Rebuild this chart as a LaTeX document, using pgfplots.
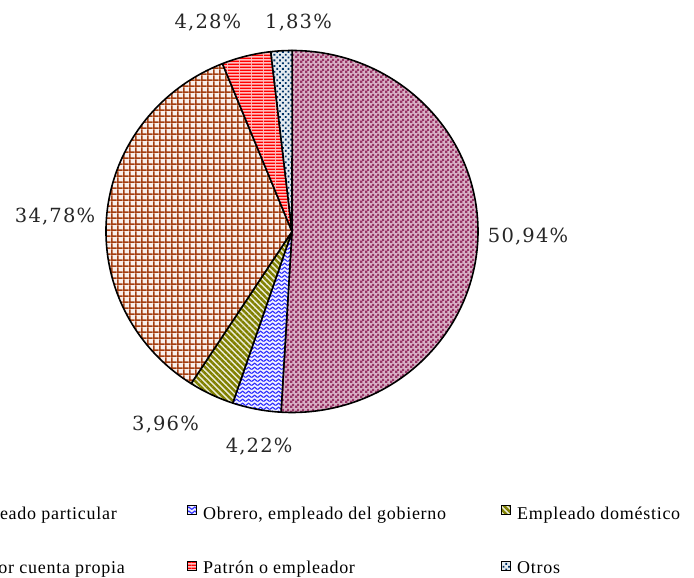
\documentclass[border=0pt]{standalone}
\usepackage{fontspec}
\setmainfont[LetterSpace=4]{Liberation Serif}
\newfontfamily\labfont[LetterSpace=6]{DejaVu Serif}
\usepackage{pgfplots}
\pgfplotsset{compat=1.18}
\usepackage{pgfplotstable}
\usetikzlibrary{patterns,patterns.meta}

\definecolor{piemaroon}{HTML}{993366}
\definecolor{pieblue}{HTML}{2E2EFF}
\definecolor{pieolive}{HTML}{808000}
\definecolor{piebrown}{HTML}{A33D10}
\definecolor{piered}{HTML}{FF0000}
\definecolor{pienavy}{HTML}{003366}

% fill patterns of the slices
\pgfdeclarepatternformonly{pchecker}{\pgfqpoint{0bp}{0bp}}{\pgfqpoint{5bp}{5bp}}{\pgfqpoint{5bp}{5bp}}{%
  \pgfpathrectangle{\pgfqpoint{0bp}{0bp}}{\pgfqpoint{2.9bp}{2.9bp}}%
  \pgfpathrectangle{\pgfqpoint{2.5bp}{2.5bp}}{\pgfqpoint{2.5bp}{2.5bp}}%
  \pgfusepath{fill}}
\pgfdeclarepatternformonly{pgridb}{\pgfqpoint{0bp}{0bp}}{\pgfqpoint{5.8bp}{5.8bp}}{\pgfqpoint{5.8bp}{5.8bp}}{%
  \pgfpathrectangle{\pgfqpoint{0bp}{0bp}}{\pgfqpoint{5.8bp}{1.8bp}}%
  \pgfpathrectangle{\pgfqpoint{0bp}{0bp}}{\pgfqpoint{1.8bp}{5.8bp}}%
  \pgfusepath{fill}}
\pgfdeclarepatternformonly{phlines}{\pgfqpoint{0bp}{0bp}}{\pgfqpoint{12bp}{3bp}}{\pgfqpoint{12bp}{3bp}}{%
  \pgfpathrectangle{\pgfqpoint{0bp}{0bp}}{\pgfqpoint{12bp}{1.8bp}}%
  \pgfusepath{fill}}
\pgfdeclarepatternformonly{pzigzag}{\pgfqpoint{0bp}{0bp}}{\pgfqpoint{6bp}{4bp}}{\pgfqpoint{6bp}{4bp}}{%
  \pgfsetlinewidth{1.3bp}%
  \pgfpathmoveto{\pgfqpoint{-0.5bp}{0.5bp}}%
  \pgfpathlineto{\pgfqpoint{3bp}{3.5bp}}%
  \pgfpathlineto{\pgfqpoint{6.5bp}{0.5bp}}%
  \pgfusepath{stroke}}

\tikzset{
  pie0/.style={preaction={fill=piemaroon!38}, pattern=pchecker, pattern color=piemaroon},
  pie1/.style={preaction={fill=pieblue!8}, pattern=pzigzag, pattern color=pieblue},
  pie2/.style={preaction={fill=pieolive!15}, pattern={Lines[angle=-45,distance=4.2bp,line width=2.5bp]}, pattern color=pieolive},
  pie3/.style={preaction={fill=piebrown!8}, pattern=pgridb, pattern color=piebrown},
  pie4/.style={preaction={fill=piered!25}, pattern=phlines, pattern color=piered},
  pie5/.style={preaction={fill=pienavy!10}, pattern={Dots[angle=45,distance=4bp,radius=1.3bp]}, pattern color=pienavy},
  legbox/.style={draw=black, line width=0.8bp},
}

% share (%) and label position (axis units)
\pgfplotstableread{
value lx     ly
50.94  1.269 -0.030
4.22  -0.177 -1.191
3.96  -0.680 -1.069
34.78 -1.274  0.080
4.28  -0.452  1.154
1.83   0.035  1.154
}\pietable

\begin{document}
\begin{tikzpicture}
\begin{axis}[hide axis, x=186bp, y=181bp,
  xmin=-1, xmax=1, ymin=-1, ymax=1,
  anchor=origin, at={(292bp,346.5bp)}, clip=false]
\pgfplotsextra{
  \gdef\cum{0}
  \foreach \i in {0,...,5}{
    \pgfplotstablegetelem{\i}{value}\of{\pietable}\let\v\pgfplotsretval
    \pgfplotstablegetelem{\i}{lx}\of{\pietable}\let\lx\pgfplotsretval
    \pgfplotstablegetelem{\i}{ly}\of{\pietable}\let\ly\pgfplotsretval
    \pgfmathsetmacro{\a}{90-3.6*\cum}
    \pgfmathsetmacro{\b}{\a-3.6*\v}
    \pgfmathsetmacro{\xa}{cos(\a)}
    \pgfmathsetmacro{\ya}{sin(\a)}
    \filldraw[pie\i, draw=black, line width=1.6bp, line join=round]
      (axis cs:0,0) -- (axis cs:\xa,\ya)
      arc[start angle=\a, end angle=\b, x radius=186bp, y radius=181bp] -- cycle;
    \node[text=black!85] at (axis cs:\lx,\ly)
      {\labfont\fontsize{19.5bp}{22bp}\selectfont
       \pgfmathprintnumber[fixed,fixed zerofill,precision=2,use comma,assume math mode=true]{\v}\%};
    \pgfmathsetmacro{\c}{\cum+\v}\xdef\cum{\c}
  }
}
\end{axis}
% legend
\begin{scope}[font=\fontsize{18bp}{20bp}\selectfont]
  \node[anchor=base east, inner sep=0pt] (l0) at (117bp,58bp) {Obrero, empleado particular};
  \filldraw[pie0, legbox] ([xshift=-16bp]l0.base west) ++(0,5.5bp) rectangle ++(9bp,9bp);
  \node[anchor=base east, inner sep=0pt] (l3) at (125bp,5bp) {Trabajador por cuenta propia};
  \filldraw[pie3, legbox] ([xshift=-16bp]l3.base west) ++(0,5.5bp) rectangle ++(9bp,9bp);
  \filldraw[pie1, legbox] (187.5bp,63.5bp) rectangle ++(9bp,9bp);
  \node[anchor=base west, inner sep=0pt] at (203bp,58bp) {Obrero, empleado del gobierno};
  \filldraw[pie2, legbox] (501bp,63.5bp) rectangle ++(9bp,9bp);
  \node[anchor=base west, inner sep=0pt] at (517bp,58bp) {Empleado doméstico};
  \filldraw[pie4, legbox] (187.5bp,7.5bp) rectangle ++(9bp,9bp);
  \node[anchor=base west, inner sep=0pt] at (203bp,5bp) {Patrón o empleador};
  \filldraw[pie5, legbox] (501bp,7.5bp) rectangle ++(9bp,9bp);
  \node[anchor=base west, inner sep=0pt] at (517bp,5bp) {Otros};
\end{scope}
\pgfresetboundingbox
\useasboundingbox (0,0) rectangle (694bp,578bp);
\end{tikzpicture}
\end{document}
